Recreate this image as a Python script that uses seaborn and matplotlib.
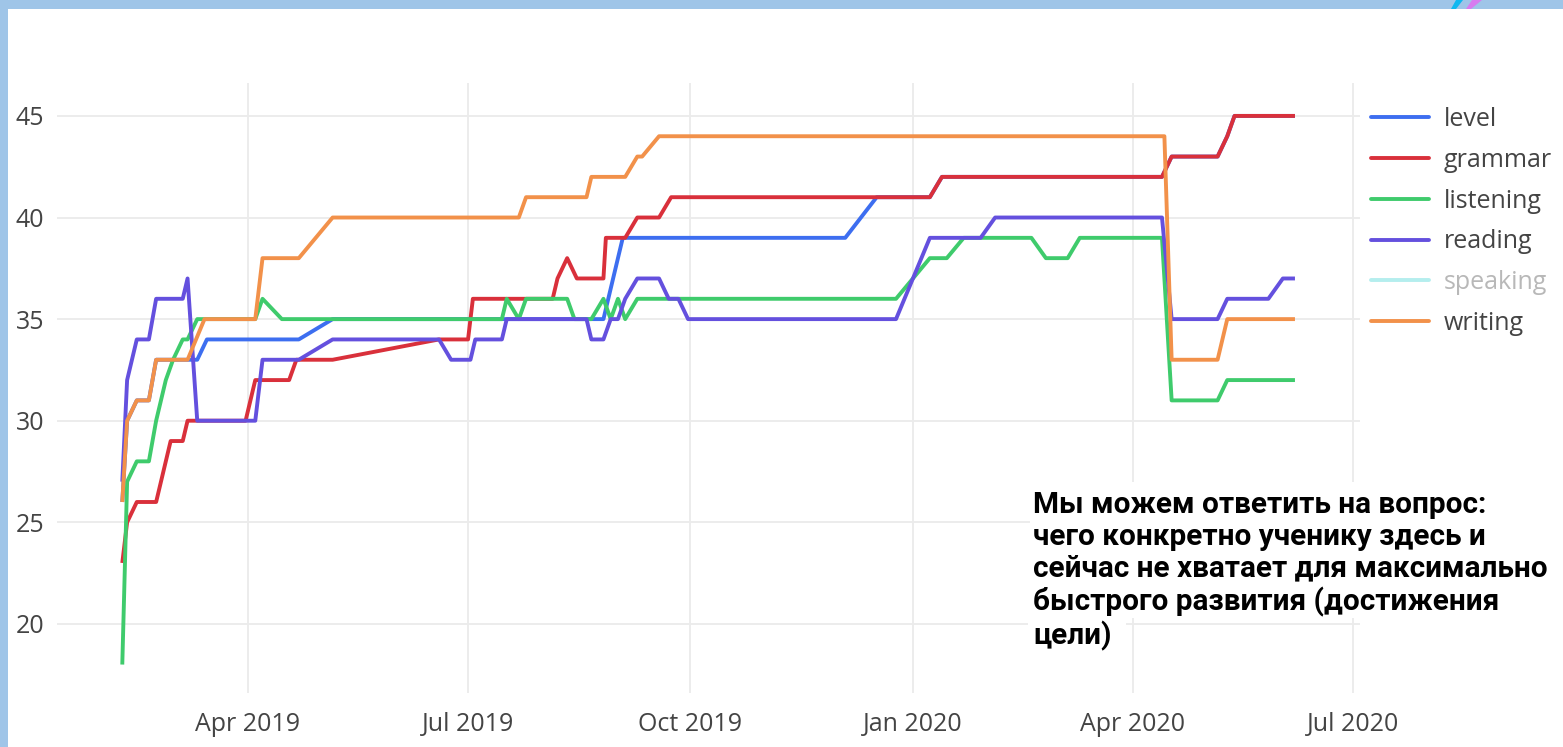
import matplotlib
matplotlib.use("Agg")
import matplotlib.pyplot as plt
import matplotlib.dates as mdates
from matplotlib.patches import Rectangle, Polygon
from matplotlib.lines import Line2D
import pandas as pd
import seaborn as sns

# ---------------- data ----------------
skills = ["level", "grammar", "listening", "reading", "speaking", "writing"]

level_dates = ["2019-02-08", "2019-02-10", "2019-02-14", "2019-02-19", "2019-02-22", "2019-03-07",
               "2019-03-11", "2019-03-15", "2019-04-22", "2019-05-06", "2019-08-26", "2019-09-03",
               "2019-12-04", "2019-12-17", "2020-01-08", "2020-01-13", "2020-04-13", "2020-04-17",
               "2020-05-06", "2020-05-10", "2020-05-13", "2020-06-07"]
level_vals = [26, 30, 31, 31, 33, 33, 33, 34, 34, 35, 35, 39, 39, 41, 41, 42, 42, 43, 43, 44, 45, 45]

grammar_dates = ["2019-02-08", "2019-02-10", "2019-02-14", "2019-02-22", "2019-02-26", "2019-02-28",
                 "2019-03-05", "2019-03-07", "2019-03-31", "2019-04-04", "2019-04-18", "2019-04-21",
                 "2019-05-06", "2019-06-19", "2019-07-01", "2019-07-03", "2019-08-05", "2019-08-07",
                 "2019-08-11", "2019-08-15", "2019-08-26", "2019-08-27", "2019-09-04", "2019-09-09",
                 "2019-09-18", "2019-09-23", "2020-01-08", "2020-01-13", "2020-04-13", "2020-04-17",
                 "2020-05-06", "2020-05-10", "2020-05-13", "2020-06-07"]
grammar_vals = [23, 25, 26, 26, 28, 29, 29, 30, 30, 32, 32, 33, 33, 34, 34, 36, 36, 37, 38, 37,
                37, 39, 39, 40, 40, 41, 41, 42, 42, 43, 43, 44, 45, 45]

listening_dates = ["2019-02-08", "2019-02-10", "2019-02-14", "2019-02-19", "2019-02-22", "2019-02-26",
                   "2019-03-01", "2019-03-05", "2019-03-07", "2019-03-11", "2019-04-04", "2019-04-07",
                   "2019-04-15", "2019-07-15", "2019-07-17", "2019-07-22", "2019-07-25", "2019-08-11",
                   "2019-08-14", "2019-08-21", "2019-08-26", "2019-08-29", "2019-09-01", "2019-09-04",
                   "2019-09-09", "2019-12-25", "2020-01-01", "2020-01-08", "2020-01-15", "2020-01-22",
                   "2020-02-19", "2020-02-25", "2020-03-05", "2020-03-10", "2020-04-13", "2020-04-17",
                   "2020-05-06", "2020-05-10", "2020-06-07"]
listening_vals = [18, 27, 28, 28, 30, 32, 33, 34, 34, 35, 35, 36, 35, 35, 36, 35, 36, 36, 35, 35,
                  36, 35, 36, 35, 36, 36, 37, 38, 38, 39, 39, 38, 38, 39, 39, 31, 31, 32, 32]

reading_dates = ["2019-02-08", "2019-02-10", "2019-02-14", "2019-02-19", "2019-02-22", "2019-03-05",
                 "2019-03-07", "2019-03-11", "2019-04-04", "2019-04-07", "2019-04-22", "2019-05-06",
                 "2019-06-19", "2019-06-24", "2019-07-02", "2019-07-04", "2019-07-15", "2019-07-17",
                 "2019-08-19", "2019-08-21", "2019-08-26", "2019-08-29", "2019-09-01", "2019-09-04",
                 "2019-09-09", "2019-09-18", "2019-09-22", "2019-09-26", "2019-09-30", "2019-12-25",
                 "2020-01-08", "2020-01-29", "2020-02-04", "2020-04-13", "2020-04-17", "2020-05-06",
                 "2020-05-10", "2020-05-27", "2020-06-02", "2020-06-07"]
reading_vals = [27, 32, 34, 34, 36, 36, 37, 30, 30, 33, 33, 34, 34, 33, 33, 34, 34, 35, 35, 34,
                34, 35, 35, 36, 37, 37, 36, 36, 35, 35, 39, 39, 40, 40, 35, 35, 36, 36, 37, 37]

speaking_dates = []
speaking_vals = []

writing_dates = ["2019-02-08", "2019-02-10", "2019-02-14", "2019-02-19", "2019-02-22", "2019-03-07",
                 "2019-03-14", "2019-04-04", "2019-04-07", "2019-04-22", "2019-04-29", "2019-05-06",
                 "2019-07-22", "2019-07-25", "2019-08-19", "2019-08-21", "2019-09-04", "2019-09-09",
                 "2019-09-11", "2019-09-18", "2020-04-14", "2020-04-17", "2020-05-06", "2020-05-10",
                 "2020-06-07"]
writing_vals = [26, 30, 31, 31, 33, 33, 35, 35, 38, 38, 39, 40, 40, 41, 41, 42, 42, 43, 43, 44,
                44, 33, 33, 35, 35]

x_tick_dates = ["2019-04-01", "2019-07-01", "2019-10-01", "2020-01-01", "2020-04-01", "2020-07-01"]
x_tick_labels = ["Apr 2019", "Jul 2019", "Oct 2019", "Jan 2020", "Apr 2020", "Jul 2020"]
y_ticks = [20, 25, 30, 35, 40, 45]

note_text = ("Мы можем ответить на вопрос:\n"
             "чего конкретно ученику здесь и\n"
             "сейчас не хватает для максимально\n"
             "быстрого развития (достижения\n"
             "цели)")

palette = {"level": "#3d6ef0", "grammar": "#d9303b", "listening": "#3fcb6c",
           "reading": "#6450de", "speaking": "#b4eeee", "writing": "#f2914a"}

# ---------------- figure ----------------
sns.set_theme(style="white")
plt.rcParams['font.family'] = ['Open Sans', 'DejaVu Sans']

W, H = 1563, 747
fig = plt.figure(figsize=(W / 100, H / 100), dpi=100)
fig.patch.set_facecolor("white")


def fx(px):
    return px / W


def fy(py):
    return 1 - py / H


ax = fig.add_axes([fx(57), fy(693), fx(1360) - fx(57), fy(83) - fy(693)])

series = {"level": (level_dates, level_vals), "grammar": (grammar_dates, grammar_vals),
          "listening": (listening_dates, listening_vals), "reading": (reading_dates, reading_vals),
          "speaking": (speaking_dates, speaking_vals), "writing": (writing_dates, writing_vals)}
frames = []
for name in skills:
    d, v = series[name]
    if len(d):
        frames.append(pd.DataFrame({"date": pd.to_datetime(d), "score": v, "skill": name}))
df = pd.concat(frames, ignore_index=True)

drawn = [s for s in skills if len(series[s][0])]
sns.lineplot(data=df, x="date", y="score", hue="skill", hue_order=drawn, palette=palette,
             linewidth=2.8, estimator=None, sort=False, legend=False, ax=ax)
for ln in ax.lines:
    ln.set_solid_joinstyle("round")
    ln.set_solid_capstyle("butt")

base = pd.Timestamp("2019-04-01")
ax.set_xlim(mdates.date2num(base - pd.Timedelta(days=79.0)),
            mdates.date2num(base + pd.Timedelta(days=459.9)))
ax.set_ylim(16.6, 46.62)

ax.set_xticks(mdates.date2num(pd.to_datetime(x_tick_dates)))
ax.set_xticklabels(x_tick_labels)
ax.set_yticks(y_ticks)
ax.set_yticklabels([str(t) for t in y_ticks])
ax.set_xlabel("")
ax.set_ylabel("")
ax.grid(True, color="#ebebeb", linewidth=1.3)
ax.set_axisbelow(True)
for s in ax.spines.values():
    s.set_visible(False)
ax.tick_params(axis="both", length=0, labelsize=18, labelcolor="#444444")
ax.tick_params(axis="x", pad=14)
ax.tick_params(axis="y", pad=9)

# legend
handles = [Line2D([0], [0], color=palette[s], lw=2.8) for s in skills]
leg = fig.legend(handles, skills, loc="upper left", bbox_to_anchor=(fx(1371), fy(107)),
                 frameon=False, fontsize=18, handlelength=2.3, handletextpad=0.6,
                 labelspacing=0.63, borderpad=0, borderaxespad=0)
for t, s in zip(leg.get_texts(), skills):
    t.set_color("#b8b8b8" if s == "speaking" else "#444444")

# white box behind note
fig.patches.append(Rectangle((fx(1030), fy(618)), fx(1563) - fx(1030), fy(482) - fy(618),
                             transform=fig.transFigure, facecolor="white", edgecolor="none", zorder=2))
fig.patches.append(Rectangle((fx(1028), fy(650)), fx(1126) - fx(1028), fy(612) - fy(650),
                             transform=fig.transFigure, facecolor="white", edgecolor="none", zorder=2))
fig.text(fx(1033), fy(491), note_text, ha="left", va="top", fontsize=21.4,
         family=["Roboto", "DejaVu Sans"], fontweight="bold", color="black",
         linespacing=1.17, zorder=5)

# slide frame
fig.patches.append(Rectangle((0, fy(9)), 1, 9 / H, transform=fig.transFigure,
                             facecolor="#9fc5e8", edgecolor="none", zorder=6))
fig.patches.append(Rectangle((0, 0), 8 / W, 1, transform=fig.transFigure,
                             facecolor="#9fc5e8", edgecolor="none", zorder=6))
# logo fragment
fig.patches.append(Polygon([(fx(1451), fy(9)), (fx(1456), fy(9)), (fx(1463), fy(0)), (fx(1456), fy(0))],
                           closed=True, transform=fig.transFigure, facecolor="#10b8f0",
                           edgecolor="none", zorder=7))
fig.patches.append(Polygon([(fx(1466), fy(9)), (fx(1471), fy(9)), (fx(1482), fy(0)), (fx(1472), fy(0))],
                           closed=True, transform=fig.transFigure, facecolor="#d77cf0",
                           edgecolor="none", zorder=7))

fig.savefig("out.png", dpi=100, facecolor="white")
